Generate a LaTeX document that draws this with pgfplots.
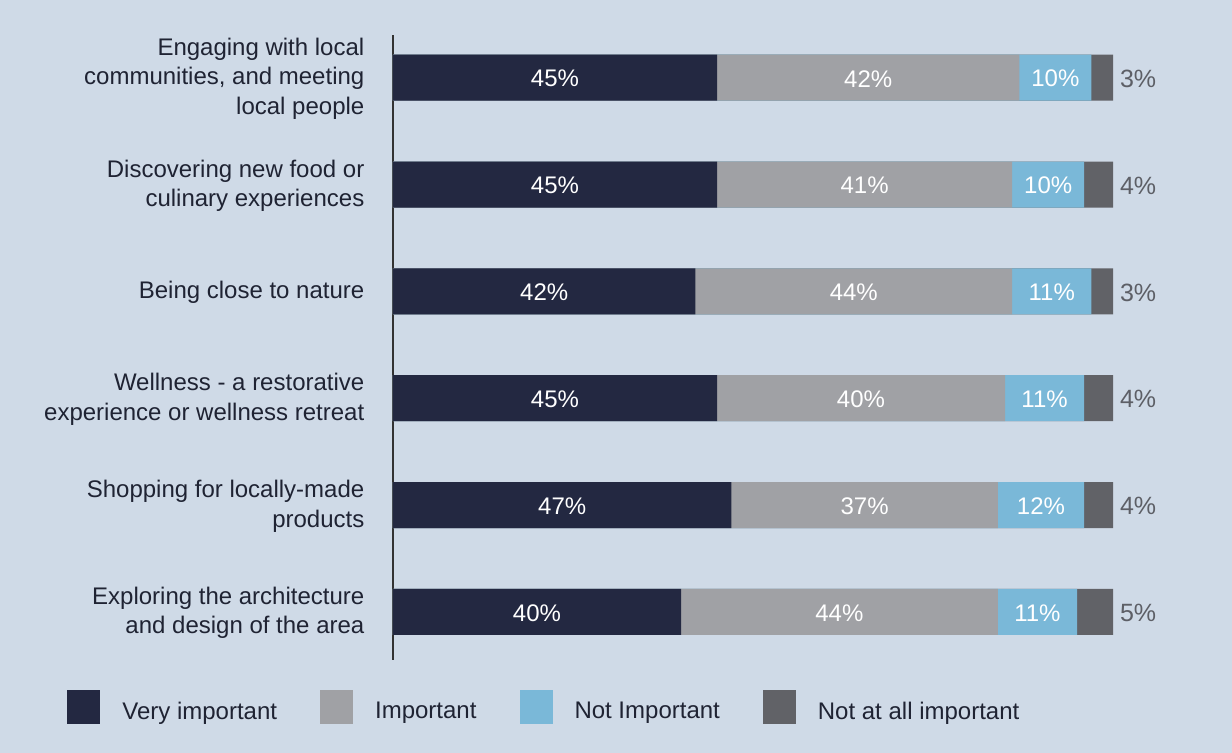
\documentclass[border=0pt]{standalone}
\usepackage{fontspec}
\setmainfont{Liberation Sans}
\usepackage{pgfplots}
\usepackage{pgfplotstable}
\pgfplotsset{compat=1.18}

\definecolor{bgcol}{HTML}{CFDAE7}
\definecolor{cVery}{HTML}{232841}
\definecolor{cImp}{HTML}{A0A1A5}
\definecolor{cNot}{HTML}{7AB8D8}
\definecolor{cNone}{HTML}{616267}
\definecolor{txt}{HTML}{1F2333}
\definecolor{sidetxt}{HTML}{5D5F66}

% Share of respondents per rating, one row per activity (top to bottom)
\pgfplotstableread{
y vi imp ni nai
0 45 42 10 3
1 45 41 10 4
2 42 44 11 3
3 45 40 11 4
4 47 37 12 4
5 40 44 11 5
}\ratings

\begin{document}
\begin{tikzpicture}
\fill[bgcol] (0,0) rectangle (616pt,376.5pt);
\begin{axis}[
  at={(196.5pt,46.5pt)}, anchor=south west,
  scale only axis, width=360pt, height=312.5pt,
  xmin=0, xmax=100, ymin=-0.4, ymax=5.45,
  y dir=reverse, clip=false,
  /pgf/number format/assume math mode=true,
  axis x line=none, axis y line=left,
  y axis line style={-, draw=black!80, line width=0.7pt},
  ytick={0,...,5}, ytick style={draw=none},
  yticklabels={
    {Engaging with local\\communities, and meeting\\local people},
    {Discovering new food or\\culinary experiences},
    {Being close to nature},
    {Wellness - a restorative\\experience or wellness retreat},
    {Shopping for locally-made\\products},
    {Exploring the architecture\\and design of the area}},
  yticklabel style={align=right, inner sep=0pt, text=txt,
    font=\fontsize{12}{14.75}\selectfont, xshift=-12pt, yshift=-0.5pt},
  seg/.style={xbar, bar shift=0pt, bar width=23pt, draw=none,
    fill=#1, forget plot},
  lab/.style={draw=none, forget plot, point meta=explicit,
    nodes near coords={\pgfmathprintnumber{\pgfplotspointmeta}\%},
    nodes near coords style={anchor=center, text=white, yshift=-0.5pt,
      font=\fontsize{12}{14}\selectfont}},
  legend columns=4,
  legend image code/.code={\fill[#1, draw=none] (0pt,-6pt) rectangle (16.5pt,11pt);},
  legend style={at={(0,0)}, anchor=west, xshift=-163pt, yshift=-23.5pt,
    draw=none, fill=none, inner sep=0pt,
    font=\fontsize{12}{14}\selectfont, text=txt,
    nodes={inner sep=0pt},
    /tikz/every odd column/.append style={column sep=11pt},
    /tikz/every even column/.append style={column sep=21.5pt}},
]
% cumulative segments, drawn from the full bar down to the first rating
\addplot[seg=cNone] table[x expr=\thisrow{vi}+\thisrow{imp}+\thisrow{ni}+\thisrow{nai}, y=y] {\ratings};
\addplot[seg=cNot]  table[x expr=\thisrow{vi}+\thisrow{imp}+\thisrow{ni}, y=y] {\ratings};
\addplot[seg=cImp]  table[x expr=\thisrow{vi}+\thisrow{imp}, y=y] {\ratings};
\addplot[seg=cVery] table[x=vi, y=y] {\ratings};

% value labels centred in each segment
\addplot[lab] table[x expr=\thisrow{vi}/2, y=y, meta=vi] {\ratings};
\addplot[lab] table[x expr=\thisrow{vi}+\thisrow{imp}/2, y=y, meta=imp] {\ratings};
\addplot[lab] table[x expr=\thisrow{vi}+\thisrow{imp}+\thisrow{ni}/2, y=y, meta=ni] {\ratings};
% smallest share written beside the bar
\addplot[lab, nodes near coords style={anchor=west, xshift=0pt, text=sidetxt,
    font=\fontsize{12.5}{14}\selectfont}]
  table[x expr=\thisrow{vi}+\thisrow{imp}+\thisrow{ni}+\thisrow{nai}, y=y, meta=nai] {\ratings};

\addlegendimage{fill=cVery}\addlegendentry{Very important}
\addlegendimage{fill=cImp}\addlegendentry{Important}
\addlegendimage{fill=cNot}\addlegendentry{Not Important}
\addlegendimage{fill=cNone}\addlegendentry{Not at all important}
\end{axis}
\end{tikzpicture}
\end{document}
